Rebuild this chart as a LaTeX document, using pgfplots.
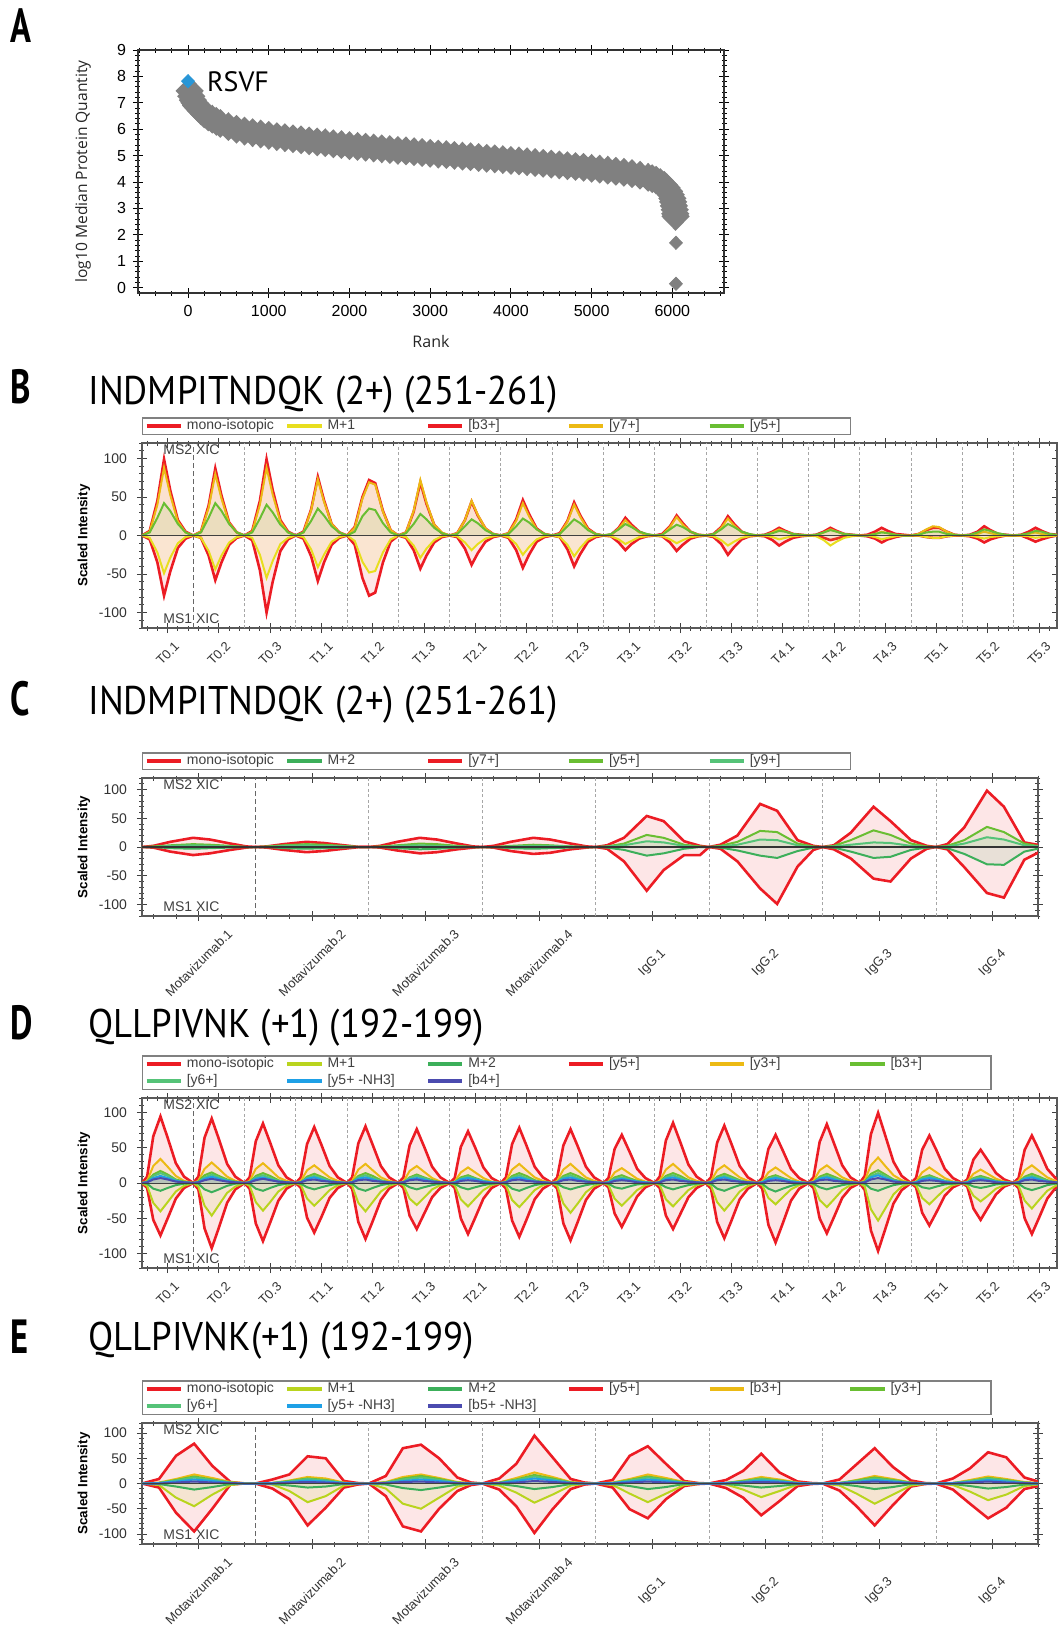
\documentclass[border=0pt]{standalone}
\usepackage{graphicx}
\usepackage{fontspec}
\usepackage{pgfplots}
\usepackage{pgfplotstable}
\pgfplotsset{compat=1.18}
\setmainfont{Liberation Sans}
\newfontfamily\titlefont{PT Sans}
\newfontfamily\labfont{Open Sans}

\definecolor{cRed}{RGB}{236,28,36}
\definecolor{cYel}{RGB}{232,222,30}
\definecolor{cOra}{RGB}{236,186,20}
\definecolor{cGrn}{RGB}{105,190,50}
\definecolor{cYG}{RGB}{185,212,30}
\definecolor{cG2}{RGB}{60,175,90}
\definecolor{cG3}{RGB}{85,195,120}
\definecolor{cBlu}{RGB}{30,160,230}
\definecolor{cDBl}{RGB}{75,75,175}
\definecolor{cGray}{RGB}{128,128,128}
\definecolor{cRS}{RGB}{40,150,215}

\newcommand\R[1]{\rotatebox{45}{#1}}
\newcommand\LE[1]{\makebox[47.3pt][l]{#1}}
\newcommand\TT[1]{\titlefont\fontsize{20}{20}\selectfont\scalebox{0.92}[1]{#1}}
\newcommand\PL[1]{\titlefont\fontsize{24}{24}\selectfont\bfseries\scalebox{0.72}[1]{#1}}
% fill to zero + line, one series
\newcommand\XP[4][1pt]{%
  \addplot[draw=none, fill=#4, fill opacity=0.11, forget plot] table[x=x,y=#3]{#2} \closedcycle;
  \addplot[#4, line width=#1] table[x=x,y=#3]{#2};}

\pgfplotsset{
  xic/.style={
    scale only axis, ymin=-120, ymax=120,
    ytick={-100,-50,0,50,100}, minor ytick={-120,-110,...,120},
    tick pos=both, tick align=center,
    major tick length=5pt, minor tick length=2.5pt,
    tick style={black!75, line width=0.4pt},
    axis line style={black!65, line width=0.6pt},
    /pgf/number format/assume math mode=true,
    yticklabel style={font=\fontsize{7}{8}\selectfont, text=black!80, xshift=-1.5pt},
    xticklabel style={font=\fontsize{6.5}{7}\selectfont, text=black!80, anchor=center},
    legend cell align=left,
    legend style={at={(0,1)}, anchor=south west, yshift=4pt, draw=black!50, line width=0.7pt,
      font=\fontsize{7}{8}\selectfont, text=black!75, inner xsep=1pt, inner ysep=0pt, row sep=0.3pt,
      nodes={inner ysep=0.8pt}, /tikz/every even column/.append style={column sep=0pt}},
    legend image post style={line width=2pt},
    ylabel={Scaled Intensity},
    every axis y label/.style={at={(rel axis cs:0,0.5)}, rotate=90, anchor=center, yshift=29pt,
      font=\fontsize{6.7}{7}\selectfont\bfseries},
  },
  xic18/.style={xic, xmin=0, xmax=17.85, xtick={0.5,1.5,...,17.5}, minor xtick={0.1,0.3,...,17.9},
    xticklabel style={yshift=-10.2pt},
    xticklabels={\R{T0.1},\R{T0.2},\R{T0.3},\R{T1.1},\R{T1.2},\R{T1.3},\R{T2.1},\R{T2.2},\R{T2.3},
      \R{T3.1},\R{T3.2},\R{T3.3},\R{T4.1},\R{T4.2},\R{T4.3},\R{T5.1},\R{T5.2},\R{T5.3}}},
  xic8/.style={xic, xmin=0, xmax=7.9, xtick={0.5,1.5,...,7.5}, minor xtick={0.1,0.3,...,7.9},
    xticklabel style={yshift=-21pt},
    xticklabels={\R{Motavizumab.1},\R{Motavizumab.2},\R{Motavizumab.3},\R{Motavizumab.4},
      \R{IgG.1},\R{IgG.2},\R{IgG.3},\R{IgG.4}}},
}

% panel A: rank vs log10 median quantity
\pgfplotstableread{
r v
20 7.45
40 7.25
60 7.1
80 7.0
100 6.9
130 6.8
160 6.7
200 6.58
250 6.47
300 6.38
350 6.3
400 6.22
500 6.1
600 6.0
700 5.93
800 5.87
900 5.82
1000 5.77
1100 5.72
1200 5.68
1300 5.64
1400 5.6
1500 5.56
1600 5.52
1700 5.49
1800 5.45
1900 5.42
2000 5.38
2100 5.35
2200 5.32
2300 5.29
2400 5.26
2500 5.23
2600 5.2
2700 5.18
2800 5.15
2900 5.12
3000 5.09
3100 5.06
3200 5.04
3300 5.01
3400 4.98
3500 4.96
3600 4.93
3700 4.9
3800 4.88
3900 4.85
4000 4.82
4100 4.8
4200 4.77
4300 4.74
4400 4.71
4500 4.68
4600 4.65
4700 4.62
4800 4.59
4900 4.56
5000 4.52
5100 4.49
5200 4.45
5300 4.41
5400 4.37
5500 4.32
5600 4.26
5700 4.18
5750 4.13
5800 4.07
5850 3.98
5900 3.88
5930 3.78
5960 3.65
5980 3.52
6000 3.38
6010 3.25
6020 3.1
6030 2.95
6035 2.8
6040 2.7
}\tabA

% panel B: mono, M+1 (MS1, negative); b3, y7, y5 (MS2, positive)
\pgfplotstableread{
x m m1 b3 y7 y5
0 0 0 0 0 0
0.15 -5 -3 6 5 4
0.3 -35 -22 45 40 23
0.43 -78 -49 99 88 42
0.55 -47 -29 59 53 32
0.7 -16 -10 20 18 15
0.85 -4 -2 5 4 4
1 0 0 0 0 0
1.15 -3 -3 5 5 4
1.3 -26 -20 39 36 23
1.43 -58 -44 87 80 42
1.55 -35 -26 52 48 32
1.7 -12 -9 17 16 15
1.85 -3 -2 4 4 4
2 0 0 0 0 0
2.15 -6 -3 6 5 4
2.3 -45 -25 45 40 22
2.43 -100 -55 99 88 40
2.55 -60 -33 59 53 30
2.7 -20 -11 20 18 14
2.85 -5 -3 5 4 4
3 0 0 0 0 0
3.15 -4 -2 5 4 4
3.3 -27 -18 34 33 19
3.43 -59 -41 76 73 35
3.55 -35 -25 46 44 26
3.7 -12 -8 15 15 12
3.85 -3 -2 4 4 4
4 0 0 0 0 0
4.15 -12 -7 11 10 5
4.3 -55 -34 50 48 25
4.43 -78 -48 72 69 35
4.55 -74 -46 68 66 33
4.7 -35 -22 32 31 16
4.85 -8 -5 7 7 4
5 0 0 0 0 0
5.15 -3 -2 4 4 3
5.3 -19 -13 31 32 15
5.43 -43 -29 69 72 28
5.55 -26 -17 41 43 21
5.7 -9 -6 14 14 10
5.85 -2 -1 3 4 3
6 0 0 0 0 0
6.15 -2 -1 3 3 2
6.3 -17 -9 20 20 12
6.43 -38 -19 44 45 21
6.55 -23 -11 26 27 16
6.7 -8 -4 9 9 7
6.85 -2 -1 2 2 2
7 0 0 0 0 0
7.15 -3 -2 3 3 2
7.3 -19 -11 21 19 12
7.43 -42 -25 46 42 22
7.55 -25 -15 28 25 17
7.7 -8 -5 9 8 8
7.85 -2 -1 2 2 2
8 0 0 0 0 0
8.15 -2 -2 3 2 2
8.3 -18 -12 19 18 12
8.43 -40 -27 43 40 21
8.55 -24 -16 26 24 16
8.7 -8 -5 9 8 7
8.85 -2 -1 2 2 2
9 0 0 0 0 0
9.15 -1 -1 1 1 2
9.3 -9 -5 10 9 8
9.43 -19 -11 23 20 15
9.55 -11 -7 14 12 11
9.7 -4 -2 5 4 5
9.85 -1 -1 1 1 2
10 0 0 0 0 0
10.15 -1 -1 2 1 1
10.3 -9 -5 12 11 8
10.43 -20 -10 26 24 14
10.55 -12 -6 16 14 11
10.7 -4 -2 5 5 5
10.85 -1 -1 1 1 1
11 0 0 0 0 0
11.15 -2 -1 2 1 2
11.3 -11 -6 11 10 8
11.43 -25 -13 25 22 15
11.55 -15 -8 15 13 11
11.7 -5 -3 5 4 5
11.85 -1 -1 1 1 2
12 0 0 0 0 0
12.15 -1 0 1 0 1
12.3 -6 -2 5 4 3
12.43 -13 -5 10 8 6
12.55 -8 -3 6 5 5
12.7 -3 -1 2 2 2
12.85 -1 0 1 0 1
13 0 0 0 0 0
13.15 0 -1 1 0 1
13.3 -3 -6 5 4 4
13.43 -6 -13 10 8 7
13.55 -4 -8 6 5 5
13.7 -1 -3 2 2 2
13.85 0 -1 1 0 1
14 0 0 0 0 0
14.15 -1 0 1 0 0
14.3 -4 -2 5 2 2
14.43 -9 -5 10 5 4
14.55 -5 -3 6 3 3
14.7 -2 -1 2 1 1
14.85 0 0 1 0 0
15 0 0 0 0 0
15.15 0 0 2 2 1
15.3 -2 -2 7 8 4
15.43 -3 -3 10 12 5
15.55 -3 -3 10 11 5
15.7 -1 -1 5 5 2
15.85 0 0 1 1 1
16 0 0 0 0 0
16.15 -1 0 1 0 1
16.3 -4 -2 5 2 4
16.43 -9 -4 12 5 8
16.55 -5 -2 7 3 6
16.7 -2 -1 2 1 3
16.85 0 0 1 0 1
17 0 0 0 0 0
17.15 0 0 1 0 1
17.3 -4 -1 5 2 3
17.43 -8 -3 10 4 6
17.55 -5 -2 6 2 5
17.7 -2 -1 2 1 2
17.85 0 0 1 0 1
18 0 0 0 0 0
}\tabB

% panel C: mono, M+2 (negative); y7, y5, y9 (positive)
\pgfplotstableread{
x m m2 y7 y5 y9
0 0 0 0 0 0
0.1 -1 0 2 1 0
0.25 -8 -2 9 3 2
0.45 -14 -3 16 5 3
0.6 -11 -2 13 4 2
0.78 -5 -1 6 2 1
0.92 -1 0 1 0 0
1 0 0 0 0 0
1.1 -1 0 1 1 0
1.25 -5 -2 5 3 2
1.45 -9 -3 9 5 3
1.6 -7 -2 7 4 2
1.78 -3 -1 3 2 1
1.92 0 0 0 0 0
2 0 0 0 0 0
2.1 -1 0 2 1 0
2.25 -6 -2 9 3 2
2.45 -11 -4 16 6 3
2.6 -9 -3 13 5 2
2.78 -4 -1 6 2 1
2.92 -1 0 1 0 0
3 0 0 0 0 0
3.1 -1 0 2 0 0
3.25 -7 -2 9 2 1
3.45 -12 -3 16 4 2
3.6 -10 -2 13 3 2
3.78 -4 -1 6 1 1
3.92 -1 0 1 0 0
4 0 0 0 0 0
4.1 -3 -1 3 1 1
4.25 -25 -5 16 6 3
4.45 -76 -15 54 21 10
4.6 -40 -11 45 16 8
4.78 -14 -3 10 4 2
4.92 -14 0 2 1 0
5 0 0 0 0 0
5.1 -3 -1 4 2 1
5.25 -25 -6 20 9 4
5.45 -72 -15 75 28 13
5.6 -99 -19 63 26 12
5.78 -34 -7 12 6 3
5.92 -5 -1 2 1 0
6 0 0 0 0 0
6.1 -4 -1 3 2 1
6.25 -20 -8 25 12 4
6.45 -55 -19 70 29 8
6.6 -60 -17 45 21 7
6.78 -20 -5 12 6 2
6.92 -3 -1 2 1 0
7 0 0 0 0 0
7.1 -4 -2 5 2 1
7.25 -35 -12 34 12 6
7.45 -80 -30 98 35 17
7.6 -88 -31 70 26 13
7.78 -22 -8 8 6 3
7.92 -8 -2 3 1 1
8 0 0 0 0 0
}\tabC

% panel D: mono, M+1, M+2 (negative); y5, y3, b3, y6, y5-NH3, b4 (positive)
\pgfplotstableread{
x m m1 m2 y5 y3 b3 y6 nh b4
0 0 0 0 0 0 0 0 0 0
0.1 -7 -4 -1 9 3 2 1 1 1
0.22 -52 -28 -8 66 24 12 10 7 5
0.36 -74 -40 -11 94 34 17 14 10 7
0.5 -50 -27 -7 64 23 12 10 7 5
0.66 -22 -12 -3 28 10 5 4 3 2
0.82 -7 -4 -1 9 3 2 1 1 1
1 0 0 0 0 0 0 0 0 0
1.1 -9 -5 -1 9 3 2 1 1 1
1.22 -64 -32 -9 64 20 11 8 6 4
1.36 -92 -46 -13 91 29 15 12 9 6
1.5 -63 -31 -9 62 20 10 8 6 4
1.66 -28 -14 -4 27 9 5 4 3 2
1.82 -9 -5 -1 9 3 2 1 1 1
2 0 0 0 0 0 0 0 0 0
2.1 -8 -4 -1 8 3 1 1 1 1
2.22 -57 -27 -8 59 20 10 8 6 4
2.36 -82 -39 -11 84 28 14 11 8 6
2.5 -56 -27 -7 57 19 10 7 5 4
2.66 -25 -12 -3 25 8 4 3 2 2
2.82 -8 -4 -1 8 3 1 1 1 1
3 0 0 0 0 0 0 0 0 0
3.1 -7 -3 -1 8 3 1 1 1 1
3.22 -49 -22 -6 55 18 9 7 6 4
3.36 -70 -32 -9 79 25 13 10 8 5
3.5 -48 -22 -6 54 17 9 7 5 3
3.66 -21 -10 -3 24 8 4 3 2 2
3.82 -7 -3 -1 8 3 1 1 1 1
4 0 0 0 0 0 0 0 0 0
4.1 -8 -4 -1 8 3 1 1 1 1
4.22 -55 -28 -8 56 19 10 8 6 4
4.36 -79 -40 -11 80 27 14 11 8 5
4.5 -54 -27 -7 54 18 10 7 5 3
4.66 -24 -12 -3 24 8 4 3 2 2
4.82 -8 -4 -1 8 3 1 1 1 1
5 0 0 0 0 0 0 0 0 0
5.1 -7 -3 -1 8 2 1 1 1 1
5.22 -46 -22 -6 53 17 8 7 5 4
5.36 -65 -31 -9 76 24 12 10 7 5
5.5 -44 -21 -6 52 16 8 7 5 3
5.66 -20 -9 -3 23 7 4 3 2 2
5.82 -7 -3 -1 8 2 1 1 1 1
6 0 0 0 0 0 0 0 0 0
6.1 -7 -3 -1 7 2 1 1 1 0
6.22 -50 -23 -6 51 15 8 6 5 3
6.36 -72 -33 -9 73 22 11 9 7 4
6.5 -49 -22 -6 50 15 7 6 5 3
6.66 -22 -10 -3 22 7 3 3 2 1
6.82 -7 -3 -1 7 2 1 1 1 0
7 0 0 0 0 0 0 0 0 0
7.1 -8 -3 -1 8 3 1 1 1 1
7.22 -53 -24 -8 55 19 10 8 6 4
7.36 -76 -34 -11 78 27 14 11 8 5
7.5 -52 -23 -7 53 18 10 7 5 3
7.66 -23 -10 -3 23 8 4 3 2 2
7.82 -8 -3 -1 8 3 1 1 1 1
8 0 0 0 0 0 0 0 0 0
8.1 -8 -4 -1 8 3 1 1 1 1
8.22 -57 -29 -6 53 19 10 8 6 4
8.36 -81 -42 -9 76 27 14 11 8 5
8.5 -55 -29 -6 52 18 10 7 5 3
8.66 -24 -13 -3 23 8 4 3 2 2
8.82 -8 -4 -1 8 3 1 1 1 1
9 0 0 0 0 0 0 0 0 0
9.1 -6 -3 -1 7 2 1 1 1 0
9.22 -43 -22 -6 48 15 8 6 4 3
9.36 -62 -32 -8 68 21 11 8 6 4
9.5 -42 -22 -5 46 14 7 5 4 3
9.66 -19 -10 -2 20 6 3 2 2 1
9.82 -6 -3 -1 7 2 1 1 1 0
10 0 0 0 0 0 0 0 0 0
10.1 -7 -3 -1 9 3 1 1 1 1
10.22 -46 -23 -6 60 19 10 8 6 4
10.36 -65 -33 -9 85 27 14 11 8 5
10.5 -44 -22 -6 58 18 10 7 5 3
10.66 -20 -10 -3 26 8 4 3 2 2
10.82 -7 -3 -1 9 3 1 1 1 1
11 0 0 0 0 0 0 0 0 0
11.1 -8 -4 -1 8 3 1 1 1 1
11.22 -55 -27 -8 57 18 9 7 6 4
11.36 -78 -39 -11 81 25 13 10 8 5
11.5 -53 -27 -7 55 17 9 7 5 3
11.66 -23 -12 -3 24 8 4 3 2 2
11.82 -8 -4 -1 8 3 1 1 1 1
12 0 0 0 0 0 0 0 0 0
12.1 -8 -3 -1 7 2 1 1 1 0
12.22 -59 -21 -8 48 15 8 6 5 3
12.36 -84 -30 -12 68 22 11 9 7 4
12.5 -57 -20 -8 46 15 7 6 5 3
12.66 -25 -9 -4 20 7 3 3 2 1
12.82 -8 -3 -1 7 2 1 1 1 0
13 0 0 0 0 0 0 0 0 0
13.1 -7 -3 -1 8 3 1 1 1 1
13.22 -50 -24 -6 58 18 9 7 6 4
13.36 -71 -34 -9 83 25 13 10 8 5
13.5 -48 -23 -6 56 17 9 7 5 3
13.66 -21 -10 -3 25 8 4 3 2 2
13.82 -7 -3 -1 8 3 1 1 1 1
14 0 0 0 0 0 0 0 0 0
14.1 -10 -5 -1 10 4 2 1 1 1
14.22 -67 -37 -8 69 25 13 10 8 5
14.36 -96 -53 -11 99 36 18 14 11 7
14.5 -65 -36 -7 67 24 12 10 7 5
14.66 -29 -16 -3 30 11 5 4 3 2
14.82 -10 -5 -1 10 4 2 1 1 1
15 0 0 0 0 0 0 0 0 0
15.1 -6 -3 -1 7 2 1 1 1 0
15.22 -42 -21 -6 47 15 8 6 5 3
15.36 -60 -30 -8 67 22 11 9 7 4
15.5 -41 -20 -5 46 15 7 6 5 3
15.66 -18 -9 -2 20 7 3 3 2 1
15.82 -6 -3 -1 7 2 1 1 1 0
16 0 0 0 0 0 0 0 0 0
16.1 -5 -3 -1 5 2 1 1 1 0
16.22 -36 -18 -5 33 13 7 6 4 3
16.36 -52 -26 -7 47 19 10 8 6 4
16.5 -35 -18 -5 32 13 7 5 4 3
16.66 -16 -8 -2 14 6 3 2 2 1
16.82 -5 -3 -1 5 2 1 1 1 0
17 0 0 0 0 0 0 0 0 0
17.1 -7 -4 -1 7 3 1 1 1 1
17.22 -50 -25 -7 47 18 9 7 6 4
17.36 -72 -36 -10 67 25 13 10 8 5
17.5 -49 -24 -7 46 17 9 7 5 3
17.66 -22 -11 -3 20 8 4 3 2 2
17.82 -7 -4 -1 7 3 1 1 1 1
18 0 0 0 0 0 0 0 0 0
}\tabD

% panel E: mono, M+1, M+2 (negative); y5, b3, y3, y6, y5-NH3, b5-NH3 (positive)
\pgfplotstableread{
x m m1 m2 y5 b3 y3 y6 nh b5
0 0 0 0 0 0 0 0 0 0
0.15 -8 -3 -1 9 2 1 1 1 0
0.3 -58 -28 -6 55 9 7 6 4 2
0.46 -95 -45 -12 79 18 14 12 8 4
0.62 -50 -22 -7 35 11 8 7 5 2
0.78 -2 -3 -1 3 3 2 2 1 1
0.9 0 0 0 0 1 0 0 0 0
1 0 0 0 0 0 0 0 0 0
1.15 -10 -2 -1 8 1 1 1 1 0
1.3 -31 -15 -4 18 6 5 4 3 2
1.46 -83 -37 -8 54 13 10 9 6 3
1.62 -48 -25 -6 50 10 7 6 4 2
1.78 -8 -4 -1 5 2 1 1 1 0
1.9 -2 -1 0 1 0 0 0 0 0
2 0 0 0 0 0 0 0 0 0
2.15 -25 -10 -2 15 3 2 2 1 1
2.3 -85 -40 -9 70 13 10 8 5 3
2.46 -95 -50 -13 77 18 15 12 8 4
2.62 -50 -28 -8 50 11 9 7 5 2
2.78 -15 -6 -2 12 3 2 2 1 1
2.9 -3 -1 0 2 1 0 0 0 0
3 0 0 0 0 0 0 0 0 0
3.15 -12 -4 -1 10 2 2 1 1 1
3.3 -45 -18 -5 39 11 8 7 5 2
3.46 -98 -38 -11 95 22 17 14 10 5
3.62 -51 -22 -7 52 13 10 8 6 3
3.78 -11 -4 -1 9 3 2 2 1 1
3.9 -2 -1 0 2 1 0 0 0 0
4 0 0 0 0 0 0 0 0 0
4.15 -8 -3 -1 7 2 1 1 1 0
4.3 -51 -20 -5 55 9 7 6 4 2
4.46 -69 -37 -11 74 18 14 12 8 4
4.62 -31 -20 -7 39 11 8 7 5 2
4.78 -5 -3 -1 5 3 2 2 1 1
4.9 -1 -1 0 1 1 0 0 0 0
5 0 0 0 0 0 0 0 0 0
5.15 -9 -2 -1 7 1 1 1 1 0
5.3 -28 -12 -4 25 6 5 4 3 2
5.46 -63 -27 -8 59 13 10 9 6 3
5.62 -35 -15 -5 22 8 6 5 4 2
5.78 -5 -2 -1 4 2 1 1 1 0
5.9 -1 0 0 1 0 0 0 0 0
6 0 0 0 0 0 0 0 0 0
6.15 -14 -4 -1 8 1 1 1 1 0
6.3 -45 -20 -5 38 7 6 5 3 2
6.46 -83 -40 -11 70 15 12 10 7 4
6.62 -43 -22 -7 33 9 7 6 4 2
6.78 -6 -4 -1 6 2 2 1 1 1
6.9 -1 -1 0 1 0 0 0 0 0
7 0 0 0 0 0 0 0 0 0
7.15 -12 -3 -1 10 1 1 1 1 0
7.3 -40 -16 -5 30 7 5 5 3 2
7.46 -69 -33 -10 62 14 11 10 7 4
7.62 -48 -22 -7 52 9 7 6 4 2
7.78 -11 -5 -2 12 3 2 2 1 1
7.9 -5 -2 -1 4 1 1 0 0 0
8 0 0 0 0 0 0 0 0 0
}\tabE

\begin{document}
\begin{tikzpicture}
\useasboundingbox (0,0) rectangle (529pt,-815pt);

% panel letters and titles
\node[anchor=base west, inner sep=0] at (5pt,-21pt) {\PL{A}};
\node[anchor=base west, inner sep=0] at (5pt,-201.5pt) {\PL{B}};
\node[anchor=base west, inner sep=0] at (5pt,-357.5pt) {\PL{C}};
\node[anchor=base west, inner sep=0] at (5pt,-519.5pt) {\PL{D}};
\node[anchor=base west, inner sep=0] at (5pt,-676.5pt) {\PL{E}};
\node[anchor=base west, inner sep=0] at (44pt,-202pt) {\TT{INDMPITNDQK (2+) (251-261)}};
\node[anchor=base west, inner sep=0] at (44pt,-357pt) {\TT{INDMPITNDQK (2+) (251-261)}};
\node[anchor=base west, inner sep=0] at (44pt,-518.5pt) {\TT{QLLPIVNK (+1) (192-199)}};
\node[anchor=base west, inner sep=0] at (44pt,-675pt) {\TT{QLLPIVNK(+1) (192-199)}};

% ---- A ----
\begin{axis}[at={(69pt,-25pt)}, anchor=north west, scale only axis, width=293pt, height=121.5pt,
  xmin=-620, xmax=6640, ymin=-0.2, ymax=9,
  xtick={0,1000,...,6000}, ytick={0,1,...,9},
  minor xtick={-600,-400,...,6600}, minor ytick={0,0.2,...,9},
  scaled x ticks=false, /pgf/number format/1000 sep={},
  /pgf/number format/assume math mode=true,
  tick pos=both, tick align=center, major tick length=5pt, minor tick length=2.5pt,
  tick style={black, line width=0.5pt},
  axis line style={black!80, line width=0.6pt},
  ticklabel style={font=\fontsize{8}{9}\selectfont, text=black},
  xlabel={Rank}, ylabel={log10 Median Protein Quantity},
  every axis x label/.style={at={(rel axis cs:0.5,0)}, anchor=center, yshift=-24pt,
    font=\labfont\fontsize{8}{9}\selectfont, text=black!85},
  every axis y label/.style={at={(rel axis cs:0,0.5)}, rotate=90, anchor=center, yshift=27.5pt,
    font=\labfont\fontsize{7.8}{9}\selectfont, text=black!85},
]
\addplot[cGray, line width=5.5pt, mark=diamond*, mark size=3.3pt, mark options={xscale=1.3}] table[x=r,y=v] {\tabA};
\addplot[only marks, cGray, mark=diamond*, mark size=3.3pt, mark options={xscale=1.3}] coordinates {(6045,1.7) (6045,0.15)};
\addplot[only marks, cRS, mark=diamond*, mark size=3.3pt, mark options={xscale=1.3}] coordinates {(0,7.82)};
\node[anchor=west, inner sep=0] at (axis cs:230,7.8) {\titlefont\fontsize{14}{14}\selectfont RSVF};
\end{axis}

% ---- B ----
\begin{axis}[xic18, at={(71pt,-221.5pt)}, anchor=north west, width=457.5pt, height=92.5pt, legend columns=5]
\draw[black!60, line width=0.6pt, dash pattern=on 2.5pt off 1.5pt] (axis cs:1,-120) -- (axis cs:1,120);
\pgfplotsinvokeforeach{2,...,17}{\draw[black!35, line width=0.35pt, dash pattern=on 1.5pt off 1.2pt] (axis cs:#1,-120) -- (axis cs:#1,120);}
\XP[1.3pt]{\tabB}{m}{cRed}\addlegendentry{\LE{mono-isotopic}}
\XP{\tabB}{m1}{cYel}\addlegendentry{\LE{M+1}}
\XP[1.3pt]{\tabB}{b3}{cRed}\addlegendentry{\LE{[b3+]}}
\XP{\tabB}{y7}{cOra}\addlegendentry{\LE{[y7+]}}
\XP{\tabB}{y5}{cGrn}\addlegendentry{\LE{[y5+]}}
\draw[black!75, line width=0.5pt] (axis cs:0,0) -- (axis cs:18,0);
\node[anchor=west, inner sep=0, xshift=10.5pt, yshift=-3.5pt, font=\fontsize{7}{8}\selectfont, text=black!75] at (rel axis cs:0,1) {MS2 XIC};
\node[anchor=west, inner sep=0, xshift=10.5pt, yshift=4.5pt, font=\fontsize{7}{8}\selectfont, text=black!75] at (rel axis cs:0,0) {MS1 XIC};
\end{axis}

% ---- C ----
\begin{axis}[xic8, at={(71pt,-389pt)}, anchor=north west, width=448pt, height=69pt, legend columns=5]
\draw[black!60, line width=0.6pt, dash pattern=on 2.5pt off 1.5pt] (axis cs:1,-120) -- (axis cs:1,120);
\pgfplotsinvokeforeach{2,...,7}{\draw[black!35, line width=0.35pt, dash pattern=on 1.5pt off 1.2pt] (axis cs:#1,-120) -- (axis cs:#1,120);}
\XP[1.3pt]{\tabC}{m}{cRed}\addlegendentry{\LE{mono-isotopic}}
\XP{\tabC}{m2}{cG2}\addlegendentry{\LE{M+2}}
\XP[1.3pt]{\tabC}{y7}{cRed}\addlegendentry{\LE{[y7+]}}
\XP{\tabC}{y5}{cGrn}\addlegendentry{\LE{[y5+]}}
\XP{\tabC}{y9}{cG3}\addlegendentry{\LE{[y9+]}}
\draw[black!80, line width=0.6pt] (axis cs:0,0) -- (axis cs:8,0);
\node[anchor=west, inner sep=0, xshift=10.5pt, yshift=-3.5pt, font=\fontsize{7}{8}\selectfont, text=black!75] at (rel axis cs:0,1) {MS2 XIC};
\node[anchor=west, inner sep=0, xshift=10.5pt, yshift=4.5pt, font=\fontsize{7}{8}\selectfont, text=black!75] at (rel axis cs:0,0) {MS1 XIC};
\end{axis}

% ---- D ----
\begin{axis}[xic18, at={(71pt,-549pt)}, anchor=north west, width=457.5pt, height=85pt, legend columns=6]
\draw[black!60, line width=0.6pt, dash pattern=on 2.5pt off 1.5pt] (axis cs:1,-120) -- (axis cs:1,120);
\pgfplotsinvokeforeach{2,...,17}{\draw[black!35, line width=0.35pt, dash pattern=on 1.5pt off 1.2pt] (axis cs:#1,-120) -- (axis cs:#1,120);}
\XP[1.3pt]{\tabD}{m}{cRed}\addlegendentry{\LE{mono-isotopic}}
\XP{\tabD}{m1}{cYG}\addlegendentry{\LE{M+1}}
\XP{\tabD}{m2}{cG2}\addlegendentry{\LE{M+2}}
\XP[1.3pt]{\tabD}{y5}{cRed}\addlegendentry{\LE{[y5+]}}
\XP{\tabD}{y3}{cOra}\addlegendentry{\LE{[y3+]}}
\XP{\tabD}{b3}{cGrn}\addlegendentry{\LE{[b3+]}}
\XP{\tabD}{y6}{cG3}\addlegendentry{\LE{[y6+]}}
\XP{\tabD}{nh}{cBlu}\addlegendentry{\LE{[y5+ -NH3]}}
\XP{\tabD}{b4}{cDBl}\addlegendentry{\LE{[b4+]}}
\draw[black!75, line width=0.5pt] (axis cs:0,0) -- (axis cs:18,0);
\node[anchor=west, inner sep=0, xshift=10.5pt, yshift=-3.5pt, font=\fontsize{7}{8}\selectfont, text=black!75] at (rel axis cs:0,1) {MS2 XIC};
\node[anchor=west, inner sep=0, xshift=10.5pt, yshift=4.5pt, font=\fontsize{7}{8}\selectfont, text=black!75] at (rel axis cs:0,0) {MS1 XIC};
\end{axis}

% ---- E ----
\begin{axis}[xic8, at={(71pt,-711.5pt)}, anchor=north west, width=448pt, height=60.5pt, legend columns=6]
\draw[black!60, line width=0.6pt, dash pattern=on 2.5pt off 1.5pt] (axis cs:1,-120) -- (axis cs:1,120);
\pgfplotsinvokeforeach{2,...,7}{\draw[black!35, line width=0.35pt, dash pattern=on 1.5pt off 1.2pt] (axis cs:#1,-120) -- (axis cs:#1,120);}
\XP[1.3pt]{\tabE}{m}{cRed}\addlegendentry{\LE{mono-isotopic}}
\XP{\tabE}{m1}{cYG}\addlegendentry{\LE{M+1}}
\XP{\tabE}{m2}{cG2}\addlegendentry{\LE{M+2}}
\XP[1.3pt]{\tabE}{y5}{cRed}\addlegendentry{\LE{[y5+]}}
\XP{\tabE}{b3}{cOra}\addlegendentry{\LE{[b3+]}}
\XP{\tabE}{y3}{cGrn}\addlegendentry{\LE{[y3+]}}
\XP{\tabE}{y6}{cG3}\addlegendentry{\LE{[y6+]}}
\XP{\tabE}{nh}{cBlu}\addlegendentry{\LE{[y5+ -NH3]}}
\XP{\tabE}{b5}{cDBl}\addlegendentry{\LE{[b5+ -NH3]}}
\draw[black!75, line width=0.5pt] (axis cs:0,0) -- (axis cs:8,0);
\node[anchor=west, inner sep=0, xshift=10.5pt, yshift=-3.5pt, font=\fontsize{7}{8}\selectfont, text=black!75] at (rel axis cs:0,1) {MS2 XIC};
\node[anchor=west, inner sep=0, xshift=10.5pt, yshift=4.5pt, font=\fontsize{7}{8}\selectfont, text=black!75] at (rel axis cs:0,0) {MS1 XIC};
\end{axis}
\end{tikzpicture}
\end{document}
